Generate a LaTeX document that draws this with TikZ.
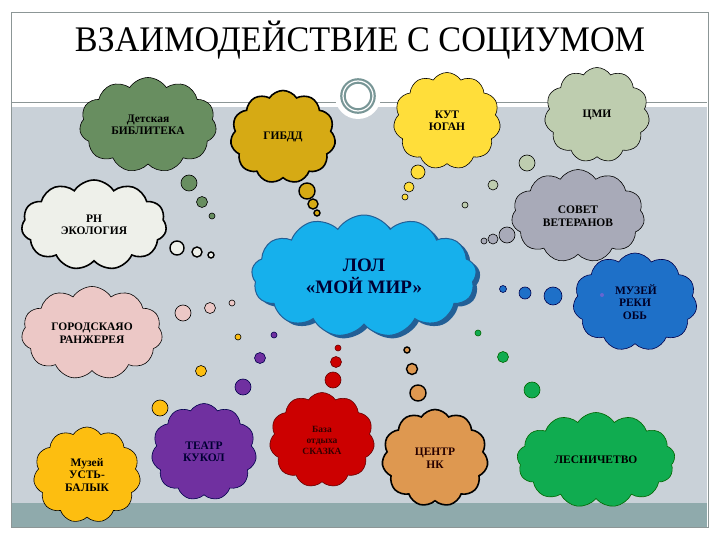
\documentclass[tikz,border=0pt]{standalone}
\usepackage{fontspec}
\setmainfont{Liberation Serif}
\usetikzlibrary{shapes.symbols}
\definecolor{bgA}{RGB}{201,209,216}
\definecolor{band}{RGB}{143,170,172}
\definecolor{frameC}{RGB}{140,150,150}
\definecolor{ringC}{RGB}{120,150,150}
\definecolor{cDet}{RGB}{104,142,96}
\definecolor{cGib}{RGB}{214,170,20}
\definecolor{cKut}{RGB}{255,222,58}
\definecolor{cCmi}{RGB}{190,205,175}
\definecolor{cSov}{RGB}{168,170,184}
\definecolor{cRn}{RGB}{238,240,234}
\definecolor{cLol}{RGB}{22,176,236}
\definecolor{cLolS}{RGB}{35,95,150}
\definecolor{cMuz}{RGB}{30,112,200}
\definecolor{cPink}{RGB}{236,200,198}
\definecolor{cAmb}{RGB}{253,190,16}
\definecolor{cPur}{RGB}{112,48,160}
\definecolor{cRed}{RGB}{204,0,0}
\definecolor{cTan}{RGB}{222,152,80}
\definecolor{cGrn}{RGB}{16,172,80}
\tikzset{
  cl/.style={cloud, cloud puffs=11, cloud puff arc=115, cloud ignores aspect, inner sep=0pt, align=center,
    font=\bfseries\fontsize{11.5}{12.5}\selectfont, draw=black, line width=0.6pt},
  thick cl/.style={cl, line width=1.6pt},
  bub/.style={circle, inner sep=0pt, draw=black, line width=0.6pt},
  thick bub/.style={bub, line width=1.4pt}
}
\begin{document}
\begin{tikzpicture}[x=1pt,y=-1pt]
\useasboundingbox (0,0) rectangle (720,540);
\fill[white] (0,0) rectangle (720,540);
% slide frame and panels
\fill[bgA] (12,107) rectangle (707,503);
\fill[band] (12,503) rectangle (707,527);
\draw[frameC, line width=0.6pt] (11,12) rectangle (708,527);
\draw[frameC, line width=0.8pt] (12,102) -- (707,102);
\node[circle, fill=white, minimum size=46pt, inner sep=0pt] (halo) at (358,96) {};
\node[circle, draw=ringC, line width=2.2pt, double=white, double distance=1.2pt, minimum size=30pt, inner sep=0pt] (ring) at (358,96) {};
% title
\node[font=\fontsize{36}{40}\selectfont, xscale=0.95] (title) at (360,40) {ВЗАИМОДЕЙСТВИЕ С СОЦИУМОМ};

% clouds
\node[cl, fill=cDet, minimum width=137pt, minimum height=95pt] (det) at (148,125) {Детская\\БИБЛИТЕКА};
\node[thick cl, fill=cGib, minimum width=105pt, minimum height=93pt] (gib) at (283,137) {ГИБДД};
\node[cl, fill=cKut, minimum width=107pt, minimum height=97pt] (kut) at (447,121) {КУТ\\ЮГАН};
\node[cl, fill=cCmi, minimum width=105pt, minimum height=95pt] (cmi) at (597,115) {ЦМИ};
\node[cl, fill=cSov, minimum width=133pt, minimum height=93pt] (sov) at (578,216) {СОВЕТ\\ВЕТЕРАНОВ};
\node[thick cl, fill=cRn, minimum width=145pt, minimum height=90pt] (rn) at (94,225) {РН\\ЭКОЛОГИЯ};
\node[cloud, cloud puffs=13, cloud puff arc=115, cloud ignores aspect, fill=cLolS, minimum width=225pt, minimum height=122pt] (lols) at (368,279) {};
\node[cl, fill=cLol, draw=cLolS, line width=1pt, minimum width=225pt, minimum height=122pt, cloud puffs=13,
  font=\bfseries\fontsize{19}{22}\selectfont, text=black!80!blue] (lol) at (364,276) {ЛОЛ\\«МОЙ МИР»};
\node[cl, fill=cMuz, draw=black!70!blue, minimum width=124pt, minimum height=98pt, text=black!85!blue] (muz) at (635,302) {\hspace*{2pt}МУЗЕЙ\\РЕКИ\\ОБЬ};
\node[circle, inner sep=0pt, fill=black!30!blue!60, minimum size=4pt] (muzdot) at (602,295) {};
\node[cl, fill=cPink, minimum width=141pt, minimum height=93pt] (pink) at (92,333) {ГОРОДСКАЯО\\РАНЖЕРЕЯ};
\node[cl, fill=cAmb, minimum width=107pt, minimum height=96pt] (amb) at (87,475) {Музей\\УСТЬ-\\БАЛЫК};
\node[cl, fill=cPur, draw=black!70!blue, minimum width=105pt, minimum height=97pt, text=black!80!blue] (pur) at (204,452) {ТЕАТР\\КУКОЛ};
\node[cl, fill=cRed, draw=black!60!red, minimum width=105pt, minimum height=95pt, text=black!80!red,
  font=\bfseries\fontsize{9.5}{11}\selectfont] (red) at (322,440) {База\\отдыха\\СКАЗКА};
\node[thick cl, fill=cTan, minimum width=106pt, minimum height=97pt, text=black!85!red] (tan) at (435,458) {ЦЕНТР\\НК};
\node[cl, fill=cGrn, draw=black!60!green, minimum width=158pt, minimum height=95pt, cloud puffs=13] (grn) at (596,460) {ЛЕСНИЧЕТВО};

% thought bubbles
\node[bub, fill=cDet, minimum size=16pt] (d1) at (189,183) {};
\node[bub, fill=cDet, minimum size=11pt] (d2) at (202,202) {};
\node[bub, fill=cDet, minimum size=6pt] (d3) at (212,216) {};

\node[thick bub, fill=cGib, minimum size=16pt] (g1) at (307,191) {};
\node[thick bub, fill=cGib, minimum size=10pt] (g2) at (313,204) {};
\node[thick bub, fill=cGib, minimum size=6pt] (g3) at (317,213) {};

\node[bub, fill=cKut, minimum size=14pt] (k1) at (418,172) {};
\node[bub, fill=cKut, minimum size=10pt] (k2) at (409,187) {};
\node[bub, fill=cKut, minimum size=6pt] (k3) at (405,197) {};

\node[bub, fill=cCmi, minimum size=16pt] (c1) at (527,163) {};
\node[bub, fill=cCmi, minimum size=10pt] (c2) at (493,185) {};
\node[bub, fill=cCmi, minimum size=6pt] (c3) at (465,205) {};

\node[bub, fill=cSov, minimum size=16pt] (s1) at (507,235) {};
\node[bub, fill=cSov, minimum size=10pt] (s2) at (493,239) {};
\node[bub, fill=cSov, minimum size=6pt] (s3) at (484,241) {};

\node[thick bub, fill=cRn, minimum size=14pt] (r1) at (177,248) {};
\node[thick bub, fill=cRn, minimum size=10pt] (r2) at (197,252) {};
\node[thick bub, fill=cRn, minimum size=6pt] (r3) at (211,255) {};

\node[bub, fill=cMuz, draw=black!70!blue, minimum size=18pt] (m1) at (553,296) {};
\node[bub, fill=cMuz, draw=black!70!blue, minimum size=12pt] (m2) at (525,293) {};
\node[bub, fill=cMuz, draw=black!70!blue, minimum size=7pt] (m3) at (503,289) {};

\node[bub, fill=cPink, minimum size=16pt] (p1) at (183,313) {};
\node[bub, fill=cPink, minimum size=11pt] (p2) at (210,308) {};
\node[bub, fill=cPink, minimum size=6pt] (p3) at (232,303) {};

\node[bub, fill=cPur, draw=black!70!blue, minimum size=16pt] (u1) at (243,387) {};
\node[bub, fill=cPur, draw=black!70!blue, minimum size=11pt] (u2) at (260,358) {};
\node[bub, fill=cPur, draw=black!70!blue, minimum size=6pt] (u3) at (274,335) {};

\node[bub, fill=cAmb, minimum size=16pt] (a1) at (160,408) {};
\node[bub, fill=cAmb, minimum size=11pt] (a2) at (201,371) {};
\node[bub, fill=cAmb, minimum size=6pt] (a3) at (238,337) {};

\node[bub, fill=cRed, draw=black!60!red, minimum size=16pt] (e1) at (333,380) {};
\node[bub, fill=cRed, draw=black!60!red, minimum size=11pt] (e2) at (336,362) {};
\node[bub, fill=cRed, draw=black!60!red, minimum size=6pt] (e3) at (338,348) {};

\node[thick bub, fill=cTan, minimum size=16pt] (t1) at (418,393) {};
\node[thick bub, fill=cTan, minimum size=11pt] (t2) at (412,369) {};
\node[thick bub, fill=cTan, minimum size=6pt] (t3) at (407,350) {};

\node[bub, fill=cGrn, draw=black!60!green, minimum size=16pt] (n1) at (532,390) {};
\node[bub, fill=cGrn, draw=black!60!green, minimum size=11pt] (n2) at (503,357) {};
\node[bub, fill=cGrn, draw=black!60!green, minimum size=6pt] (n3) at (478,333) {};
\end{tikzpicture}
\end{document}
